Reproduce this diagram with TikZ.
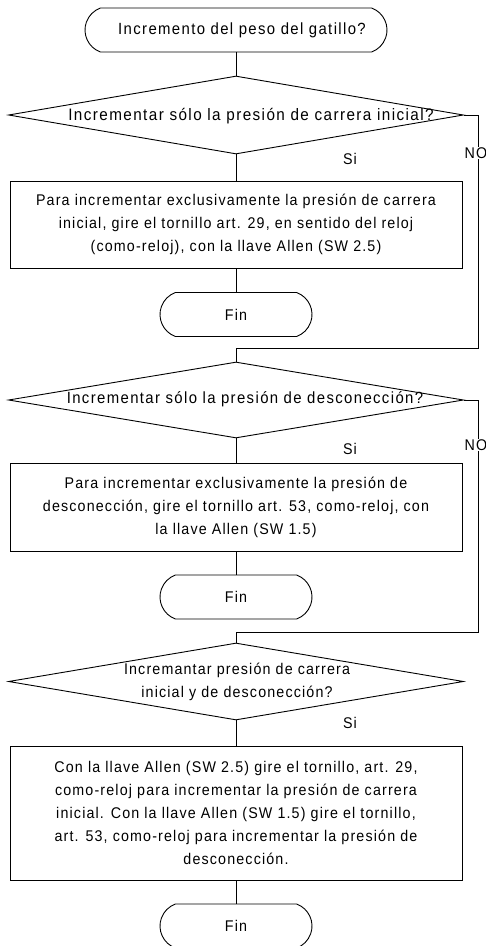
\documentclass[tikz,border=0pt]{standalone}
\usepackage{fontspec}
\setmainfont[FakeStretch=0.92,LetterSpace=7.5]{Liberation Sans}
\newfontfamily\dfont[FakeStretch=0.92,LetterSpace=8.5]{Liberation Sans}
\usetikzlibrary{shapes.geometric,shapes.misc}
\begin{document}
\begin{tikzpicture}[x=1pt,y=-1pt,
  every node/.style={font=\fontsize{15.5}{23}\selectfont},
  line/.style={line width=0.9pt},
  term/.style={draw, line width=0.9pt, rounded rectangle, rounded rectangle arc length=140, minimum width=#1, minimum height=44pt, inner sep=0pt},
  term/.default=152pt,
  decision/.style={draw, diamond, line width=0.9pt, minimum width=455pt, minimum height=#1, inner sep=0pt, aspect=5.8},
  dtext/.style={font=\dfont\fontsize{16.2}{23}\selectfont},
  actbox/.style={draw, line width=0.9pt, minimum width=452pt, minimum height=#1, inner sep=0pt, align=center},
  lbl/.style={inner sep=1pt},
  nolbl/.style={fill=white, inner sep=1pt}]
\useasboundingbox (0,0) rectangle (486,946);

\node[term=302pt] (start) at (236,30) {};
\node[dtext] (t0) at (242,30) {Incremento del peso del gatillo?};

\node[decision=78pt] (d1) at (236,115) {};
\node[dtext, font=\dfont\fontsize{16.6}{23}\selectfont] (t1) at (251,116) {Incrementar sólo la presión de carrera inicial?};
\node[actbox=87pt] (b1) at (236,224.5) {Para incrementar exclusivamente la presión de carrera\\inicial, gire el tornillo art. 29, en sentido del reloj\\(como-reloj), con la llave Allen (SW 2.5)};
\node[term] (f1) at (236,314.5) {Fin};

\node[decision=76pt] (d2) at (236,400) {};
\node[dtext] (t2) at (245,399) {Incrementar sólo la presión de desconección?};
\node[actbox=88pt] (b2) at (236,507) {Para incrementar exclusivamente la presión de\\desconección, gire el tornillo art. 53, como-reloj, con\\la llave Allen (SW 1.5)};
\node[term] (f2) at (236,597) {Fin};

\node[decision=77pt] (d3) at (236,681.5) {};
\node[align=center] (t3) at (237,682) {Incremantar presión de carrera\\inicial y de desconección?};
\node[actbox=134pt] (b3) at (236,813) {Con la llave Allen (SW 2.5) gire el tornillo, art. 29,\\como-reloj para incrementar la presión de carrera\\inicial. Con la llave Allen (SW 1.5) gire el tornillo,\\art. 53, como-reloj para incrementar la presión de\\desconección.};
\node[term] (f3) at (236,926) {Fin};

\coordinate (c1) at (478,348);
\coordinate (c2) at (478,632);

\draw[line] (start.south) -- (d1.north);
\draw[line] (d1.south) -- (b1.north);
\draw[line] (b1.south) -- (f1.north);
\draw[line] (d1.east) -| (c1) -| (d2.north);
\draw[line] (d2.south) -- (b2.north);
\draw[line] (b2.south) -- (f2.north);
\draw[line] (d2.east) -| (c2) -| (d3.north);
\draw[line] (d3.south) -- (b3.north);
\draw[line] (b3.south) -- (f3.north);

\node[lbl] (si1) at (350,159) {Si};
\node[lbl] (si2) at (350,449) {Si};
\node[lbl] (si3) at (350,723) {Si};
\node[nolbl] (no1) at (476,153) {NO};
\node[nolbl] (no2) at (476,445) {NO};
\end{tikzpicture}
\end{document}
